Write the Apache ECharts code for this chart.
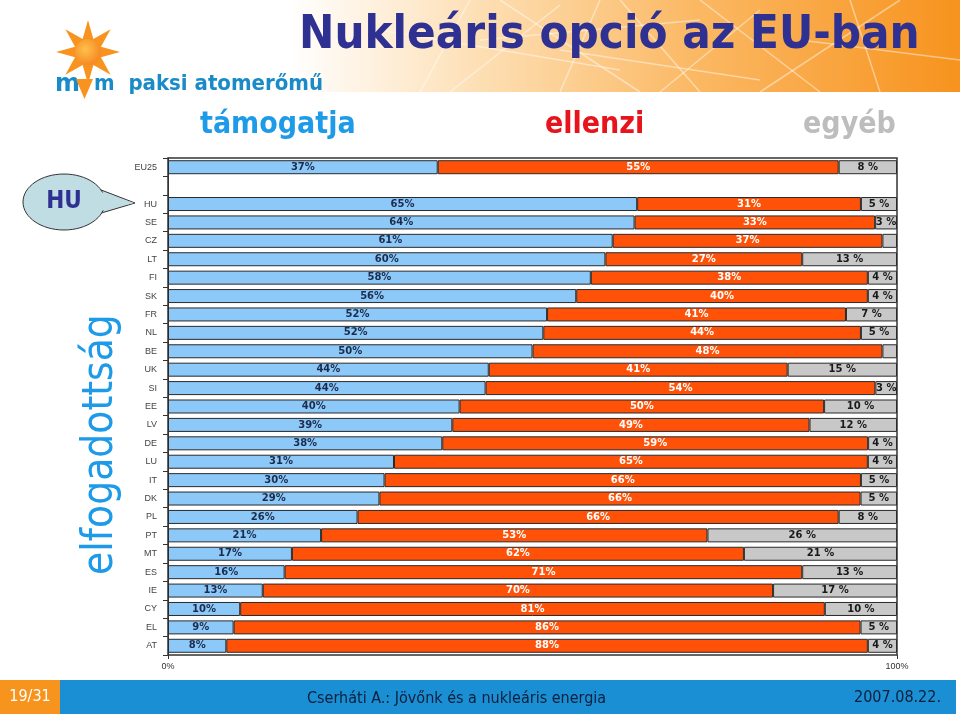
<!DOCTYPE html>
<html><head><meta charset="utf-8">
<script src="https://cdn.jsdelivr.net/npm/echarts@6/dist/echarts.min.js"></script>
<style>html,body{margin:0;padding:0;background:#fff}#c{width:960px;height:716px}</style>
</head><body><div id="c"></div>
<script>
const categories = ['EU25','','HU','SE','CZ','LT','FI','SK','FR','NL','BE','UK','SI','EE','LV','DE','LU','IT','DK','PL','PT','MT','ES','IE','CY','EL','AT'];
const supportVals = [37,null,65,64,61,60,58,56,52,52,50,44,44,40,39,38,31,30,29,26,21,17,16,13,10,9,8];
const opposeVals  = [55,null,31,33,37,27,38,40,41,44,48,41,54,50,49,59,65,66,66,66,53,62,71,70,81,86,88];
const otherVals   = [8,null,5,3,2,13,4,4,7,5,2,15,3,10,12,4,4,5,5,8,26,21,13,17,10,5,4];
const xTickLabels = ['0%','100%'];
const legendWords = ['támogatja','ellenzi','egyéb'];

const totals = categories.map((c,i)=> supportVals[i]==null?null:supportVals[i]+opposeVals[i]+otherVals[i]);
const share = arr => arr.map((v,i)=> v==null?null:{value:v/totals[i]*100, raw:v});

const chart = echarts.init(document.getElementById('c'));
const bw = {borderColor:'#2a2a2a', borderWidth:1};
const lblFont = {fontFamily:'DejaVu Sans', fontWeight:'bold', fontSize:10};

// sun polygon (decoration)
const sunPts = [];
for(let k=0;k<16;k++){const a=k*Math.PI/8-Math.PI/2; const r=k%2===0?32:14; sunPts.push([88+r*Math.cos(a),52+r*Math.sin(a)]);}

const texLines = [
 [[420,92],[470,0]],[[450,92],[560,5]],[[500,0],[640,92]],[[560,92],[600,0]],[[620,0],[700,92]],
 [[660,92],[760,10]],[[700,0],[820,92]],[[760,92],[900,0]],[[800,40],[960,60]],[[480,40],[700,20]],
 [[380,30],[620,70]],[[850,0],[880,92]],[[560,50],[760,80]]
];

chart.setOption({
  animation:false,
  grid:{left:168, right:63, top:158, bottom:61, show:true, borderColor:'#333', borderWidth:1.5, backgroundColor:'#fff'},
  xAxis:{type:'value', min:0, max:100, interval:100,
    axisLine:{show:false}, splitLine:{show:false},
    axisTick:{show:true, length:4, lineStyle:{color:'#333'}},
    axisLabel:{fontFamily:'Liberation Sans', fontSize:9, color:'#333', margin:7,
      formatter:v=> v===0?xTickLabels[0]:(v===100?xTickLabels[1]:'')}},
  yAxis:{type:'category', data:categories, inverse:true,
    axisLine:{show:true, lineStyle:{color:'#333'}},
    axisTick:{show:true, length:5, lineStyle:{color:'#333'}},
    axisLabel:{fontFamily:'Liberation Sans', fontSize:9, color:'#444', margin:11}},
  series:[
    {name:legendWords[0], type:'bar', stack:'s', barWidth:14, data:share(supportVals),
     itemStyle:Object.assign({color:'#8CC8F8'},bw),
     label:Object.assign({show:true, position:'inside', color:'#1c2c4c', formatter:p=>p.data.raw+'%'},lblFont)},
    {name:legendWords[1], type:'bar', stack:'s', barWidth:14, data:share(opposeVals),
     itemStyle:Object.assign({color:'#FF5208'},bw),
     label:Object.assign({show:true, position:'inside', color:'#ffffff', formatter:p=>p.data.raw+'%'},lblFont)},
    {name:legendWords[2], type:'bar', stack:'s', barWidth:14, data:share(otherVals),
     itemStyle:Object.assign({color:'#C8C8C8'},bw),
     label:Object.assign({show:true, position:'inside', color:'#1a1a1a', formatter:p=>p.data.raw>=3?p.data.raw+' %':''},lblFont)}
  ],
  graphic:[
    {type:'rect', shape:{x:290,y:0,width:670,height:92}, silent:true, z:-1,
     style:{fill:new echarts.graphic.LinearGradient(0,0,1,0,[{offset:0,color:'#ffffff'},{offset:0.3,color:'#FDDDB0'},{offset:0.6,color:'#FBB965'},{offset:1,color:'#F7931E'}])}},
    ...texLines.map(l=>({type:'line', silent:true, z:-1, shape:{x1:l[0][0],y1:l[0][1],x2:l[1][0],y2:l[1][1]}, style:{stroke:'rgba(255,255,255,0.45)', lineWidth:1.5}})),
    {type:'text', left:299, top:12, style:{text:'Nukleáris opció az EU-ban', fill:'#2E3192', font:'bold 47px "DejaVu Sans Condensed"'}},
    {type:'polygon', shape:{points:sunPts}, style:{fill:'#F7931E'}},
    {type:'circle', shape:{cx:88,cy:52,r:13}, style:{fill:new echarts.graphic.RadialGradient(0.4,0.4,0.7,[{offset:0,color:'#FFC04A'},{offset:1,color:'#F58220'}])}},
    {type:'text', left:55, top:73, style:{text:'m', fill:'#1A8BC8', font:'bold 24px "DejaVu Sans"'}},
    {type:'polygon', shape:{points:[[76,79],[93,79],[84.5,99]]}, style:{fill:'#F7931E'}},
    {type:'text', left:94, top:73, style:{text:'m  paksi atomerőmű', fill:'#1A8BC8', font:'bold 22px "DejaVu Sans Condensed"'}},
    {type:'text', left:200, top:110, style:{text:legendWords[0], fill:'#1E9BE8', font:'bold 30px "DejaVu Sans Condensed"'}},
    {type:'text', left:545, top:110, style:{text:legendWords[1], fill:'#E8141B', font:'bold 30px "DejaVu Sans Condensed"'}},
    {type:'text', left:803, top:110, style:{text:legendWords[2], fill:'#BDBDBD', font:'bold 30px "DejaVu Sans Condensed"'}},
    {type:'text', x:80, y:575, rotation:Math.PI/2, style:{text:'elfogadottság', fill:'#1E9BE8', font:'42px "DejaVu Sans Condensed"', textVerticalAlign:'top'}},
    {type:'polygon', shape:{points:[[96,188],[135,203],[98,214]]}, style:{fill:'#BFDDE3', stroke:'#333', lineWidth:1}},
    {type:'ellipse', shape:{cx:64,cy:202,rx:41,ry:28}, style:{fill:'#BFDDE3', stroke:'#333', lineWidth:1}},
    {type:'polygon', shape:{points:[[98,191],[134,203],[100,211]]}, style:{fill:'#BFDDE3'}},
    {type:'text', x:64, y:202, style:{text:'HU', fill:'#2E3192', font:'bold 24px "DejaVu Sans Condensed"', textAlign:'center', textVerticalAlign:'middle'}},
    {type:'rect', shape:{x:0,y:680,width:956,height:34}, style:{fill:'#1A8FD4'}},
    {type:'rect', shape:{x:0,y:680,width:60,height:34}, style:{fill:'#F7941D'}},
    {type:'text', x:30, y:697, style:{text:'19/31', fill:'#fff', font:'16px "DejaVu Sans Condensed"', textAlign:'center', textVerticalAlign:'middle'}},
    {type:'text', x:307, y:699, style:{text:'Cserháti A.: Jövőnk és a nukleáris energia', fill:'#0d1f3c', font:'16px "DejaVu Sans Condensed"', textVerticalAlign:'middle'}},
    {type:'text', x:941, y:698, style:{text:'2007.08.22.', fill:'#0d1f3c', font:'16px "DejaVu Sans Condensed"', textAlign:'right', textVerticalAlign:'middle'}}
  ]
});
</script></body></html>
